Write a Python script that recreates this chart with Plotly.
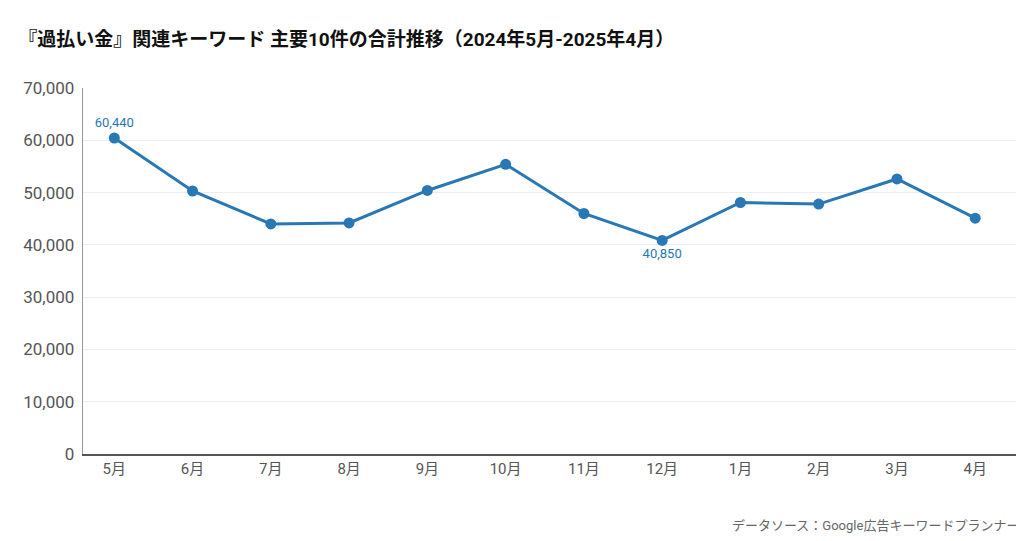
import plotly.graph_objects as go

# 月ごとの合計検索数
months = ['5月', '6月', '7月', '8月', '9月', '10月', '11月', '12月', '1月', '2月', '3月', '4月']
totals = [60440, 50300, 44000, 44200, 50400, 55400, 46000, 40850, 48100, 47800, 52600, 45100]

labels = ['60,440' if v == max(totals) else '40,850' if v == min(totals) else '' for v in totals]
positions = ['top center' if v == max(totals) else 'bottom center' for v in totals]

fig = go.Figure()
fig.add_trace(go.Scatter(
    x=months, y=totals, mode='lines+markers+text',
    line=dict(color='#2878b5', width=3),
    marker=dict(size=11, color='#2878b5'),
    text=labels, textposition=positions,
    textfont=dict(size=13, color='#2878b5'),
    cliponaxis=False,
))

fig.update_layout(
    width=1024, height=541,
    paper_bgcolor='white', plot_bgcolor='white',
    margin=dict(l=75, r=2, t=80, b=95),
    font=dict(family='Roboto, Noto Sans CJK JP, sans-serif'),
    title=dict(text='<b>『過払い金』関連キーワード 主要10件の合計推移（2024年5月-2025年4月）</b>',
               x=0.01, xanchor='left', y=0.955, font=dict(size=19, color='#111')),
    showlegend=False,
)
fig.update_xaxes(showline=True, linecolor='#555', linewidth=2, ticks='', automargin=False,
                 tickfont=dict(size=15, color='#555'), showgrid=False, range=[-0.4, 11.7])
fig.update_yaxes(range=[0, 70000], dtick=10000, tickformat=',', gridcolor='#eeeeee', automargin=False,
                 showline=True, linecolor='#999', linewidth=1, zeroline=False,
                 tickfont=dict(size=17, color='#555'), ticksuffix=' ')
fig.add_annotation(text='データソース：Google広告キーワードプランナー', xref='paper', yref='paper',
                   x=0.99, y=-0.22, xanchor='right', showarrow=False,
                   font=dict(size=13, color='#666'))

fig.write_html("out.html")
